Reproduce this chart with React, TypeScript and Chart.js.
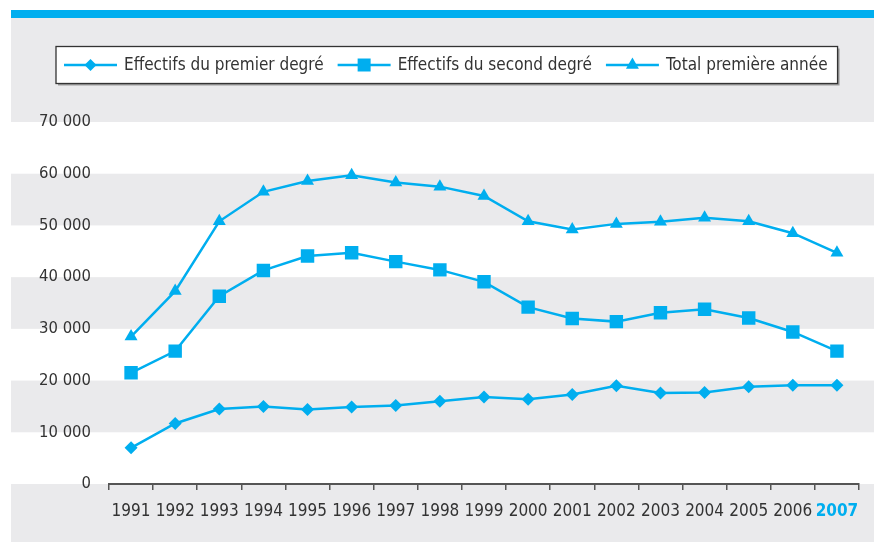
import { useEffect, useRef } from "react";
import { Chart, registerables } from "chart.js";

Chart.register(...registerables);

const years = ["1991", "1992", "1993", "1994", "1995", "1996", "1997", "1998", "1999", "2000", "2001", "2002", "2003", "2004", "2005", "2006", "2007"];
const premierDegre = [7000, 11700, 14500, 15000, 14400, 14900, 15200, 16000, 16800, 16400, 17300, 19000, 17600, 17700, 18800, 19100, 19100];
const secondDegre = [21500, 25700, 36300, 41300, 44100, 44700, 43000, 41400, 39100, 34200, 32000, 31400, 33100, 33800, 32100, 29400, 25700];
const totalPremiereAnnee = [28500, 37300, 50800, 56500, 58600, 59700, 58300, 57500, 55700, 50800, 49200, 50300, 50700, 51500, 50800, 48500, 44700];
const seriesLabels = ["Effectifs du premier degré", "Effectifs du second degré", "Total première année"];
const yMin = 0;
const yMax = 70000;
const yStep = 10000;
const highlightYear = "2007";

const BLUE = "#00AEEF";
const GREY = "#EAEAEC";
const TEXT = "#333333";
const FONT = '"Liberation Sans Narrow", "DejaVu Sans Condensed", "Roboto Condensed", "Liberation Sans", sans-serif';

const fmt = (v: number) => String(v).replace(/\B(?=(\d{3})+(?!\d))/g, " ");

function drawMarker(ctx: CanvasRenderingContext2D, kind: string, x: number, y: number) {
  ctx.beginPath();
  if (kind === "diamond") {
    const r = 6;
    ctx.moveTo(x, y - r);
    ctx.lineTo(x + r, y);
    ctx.lineTo(x, y + r);
    ctx.lineTo(x - r, y);
  } else if (kind === "square") {
    const h = 6.5;
    ctx.rect(x - h, y - h, 2 * h, 2 * h);
  } else {
    const r = 7.5;
    ctx.moveTo(x, y - r);
    ctx.lineTo(x + r * 0.866, y + r * 0.5);
    ctx.lineTo(x - r * 0.866, y + r * 0.5);
  }
  ctx.closePath();
  ctx.fill();
}

const panelPlugin = {
  id: "panel",
  beforeDraw(chart: any) {
    const ctx: CanvasRenderingContext2D = chart.ctx;
    const W = chart.width;
    const H = chart.height;
    const ys = chart.scales.y;
    ctx.save();
    ctx.fillStyle = "#ffffff";
    ctx.fillRect(0, 0, W, H);
    ctx.fillStyle = GREY;
    ctx.fillRect(11, 18, W - 11, H - 18);
    ctx.fillStyle = BLUE;
    ctx.fillRect(11, 10, W - 11, 8);
    ctx.fillStyle = "#ffffff";
    for (let v = yMin; v < yMax; v += 2 * yStep) {
      const y1 = ys.getPixelForValue(v + yStep);
      const y2 = ys.getPixelForValue(v);
      ctx.fillRect(11, y1, W - 11, y2 - y1);
    }
    ctx.restore();
  },
  afterDraw(chart: any) {
    const ctx: CanvasRenderingContext2D = chart.ctx;
    const kinds = ["diamond", "square", "triangle"];
    ctx.save();
    ctx.font = `17px ${FONT}`;
    const boxL = 56, boxT = 46.5, boxH = 37;
    const cy = boxT + boxH / 2;
    let x = 64;
    const items: { x: number; w: number }[] = [];
    seriesLabels.forEach((t) => {
      const w = ctx.measureText(t).width;
      items.push({ x, w });
      x += 60 + w + 14;
    });
    const boxR = x - 14 + 10;
    ctx.fillStyle = "#9a9a9a";
    ctx.fillRect(boxL + 2, boxT + 2, boxR - boxL, boxH);
    ctx.fillStyle = "#ffffff";
    ctx.fillRect(boxL, boxT, boxR - boxL, boxH);
    ctx.strokeStyle = "#333333";
    ctx.lineWidth = 1.3;
    ctx.strokeRect(boxL, boxT, boxR - boxL, boxH);
    items.forEach((it, i) => {
      ctx.strokeStyle = BLUE;
      ctx.lineWidth = 2.5;
      ctx.beginPath();
      ctx.moveTo(it.x, cy);
      ctx.lineTo(it.x + 53, cy);
      ctx.stroke();
      ctx.fillStyle = BLUE;
      drawMarker(ctx, kinds[i], it.x + 26.5, cy);
      ctx.fillStyle = TEXT;
      ctx.textBaseline = "middle";
      ctx.textAlign = "left";
      ctx.fillText(seriesLabels[i], it.x + 60, cy + 1);
    });
    ctx.restore();
  },
};

export default function App() {
  const ref = useRef<HTMLCanvasElement | null>(null);
  useEffect(() => {
    if (!ref.current) return;
    const chart = new Chart(ref.current, {
      type: "line",
      data: {
        labels: years,
        datasets: [
          {
            label: seriesLabels[0],
            data: premierDegre,
            borderColor: BLUE,
            backgroundColor: BLUE,
            borderWidth: 2.5,
            pointStyle: "rectRot",
            pointRadius: 6.5,
            pointBorderWidth: 0,
            pointBackgroundColor: BLUE,
            tension: 0,
          },
          {
            label: seriesLabels[1],
            data: secondDegre,
            borderColor: BLUE,
            backgroundColor: BLUE,
            borderWidth: 2.5,
            pointStyle: "rect",
            pointRadius: 9.5,
            pointBorderWidth: 0,
            pointBackgroundColor: BLUE,
            tension: 0,
          },
          {
            label: seriesLabels[2],
            data: totalPremiereAnnee,
            borderColor: BLUE,
            backgroundColor: BLUE,
            borderWidth: 2.5,
            pointStyle: "triangle",
            pointRadius: 7.5,
            pointBorderWidth: 0,
            pointBackgroundColor: BLUE,
            tension: 0,
          },
        ],
      },
      options: {
        animation: false,
        responsive: false,
        maintainAspectRatio: false,
        devicePixelRatio: 1,
        layout: { padding: { left: 0, right: 15, top: 122, bottom: 0 } },
        plugins: {
          legend: { display: false },
          tooltip: { enabled: false },
          title: { display: false },
        },
        scales: {
          x: {
            type: "category",
            offset: true,
            grid: {
              display: true,
              offset: true,
              drawOnChartArea: false,
              drawTicks: true,
              tickLength: 6,
              color: "#555555",
              lineWidth: 1.5,
            },
            border: { display: true, color: "#555555", width: 2 },
            ticks: {
              padding: 11,
              autoSkip: false,
              maxRotation: 0,
              color: (c: any) => (years[c.index] === highlightYear ? BLUE : TEXT),
              font: (c: any) => ({
                family: FONT,
                size: 17,
                weight: years[c.index] === highlightYear ? "bold" : "normal",
              }),
            },
            afterFit: (s: any) => {
              s.height = 58;
            },
          },
          y: {
            min: yMin,
            max: yMax,
            grid: { display: false, drawTicks: false },
            border: { display: false },
            ticks: {
              stepSize: yStep,
              padding: 18,
              color: TEXT,
              font: { family: FONT, size: 16.5 },
              callback: (v: any) => fmt(Number(v)),
            },
            afterFit: (s: any) => {
              s.width = 109;
            },
          },
        },
      },
      plugins: [panelPlugin],
    });
    return () => chart.destroy();
  }, []);
  return (
    <div style={{ position: "fixed", left: 0, top: 0, width: 874, height: 542 }}>
      <canvas ref={ref} width={874} height={542} style={{ width: 874, height: 542, display: "block" }} />
    </div>
  );
}
